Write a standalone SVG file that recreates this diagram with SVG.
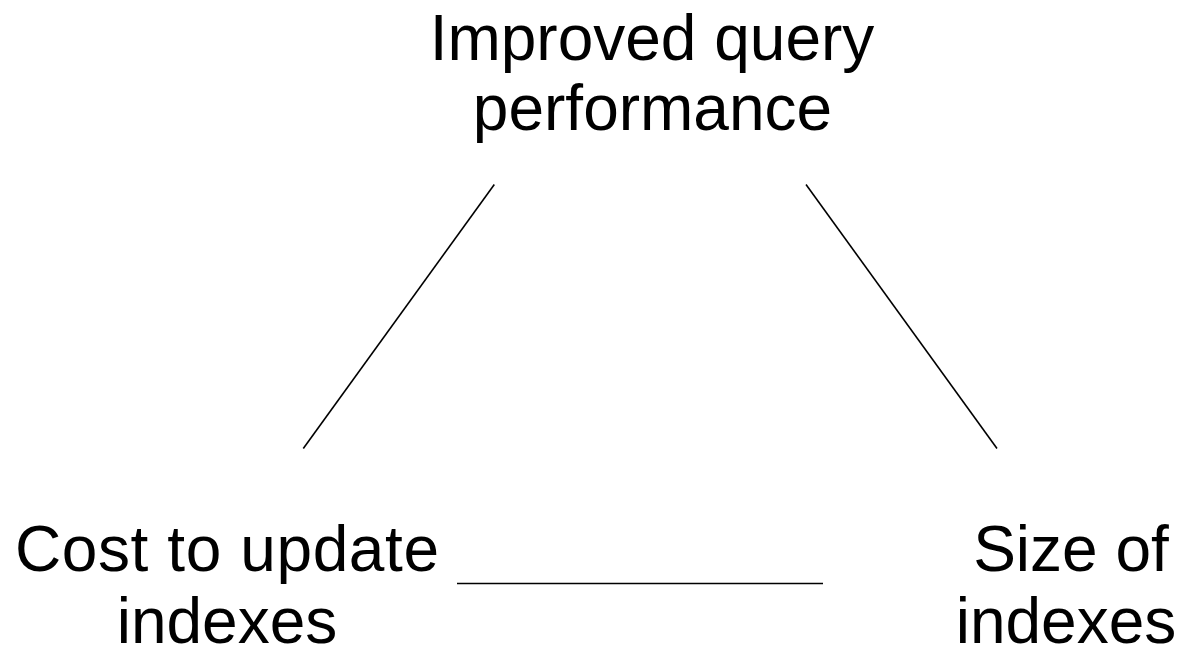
<svg xmlns="http://www.w3.org/2000/svg" width="1185" height="649" viewBox="0 0 1185 649">
  <style>
    .label { font-family: "Liberation Sans", Arial, sans-serif; font-size: 64px; fill: #000; text-anchor: middle; }
    .edge { stroke: #000; stroke-width: 1.6; fill: none; }
  </style>
  <rect width="1185" height="649" fill="#fff"/>
  <g id="connectors">
    <line class="edge" x1="494.3" y1="184.5" x2="303.3" y2="448.5"/>
    <line class="edge" x1="806" y1="184.5" x2="997" y2="448.5"/>
    <line class="edge" x1="457" y1="583.5" x2="823" y2="583.5" stroke-width="2.2"/>
  </g>
  <g id="node-performance">
    <text class="label" x="652" y="60">Improved query</text>
    <text class="label" x="652.5" y="130">performance</text>
  </g>
  <g id="node-update-cost">
    <text class="label" x="227" y="571" textLength="424" lengthAdjust="spacing">Cost to update</text>
    <text class="label" x="227" y="643">indexes</text>
  </g>
  <g id="node-index-size">
    <text class="label" x="1071" y="571">Size of</text>
    <text class="label" x="1066" y="643">indexes</text>
  </g>
</svg>
